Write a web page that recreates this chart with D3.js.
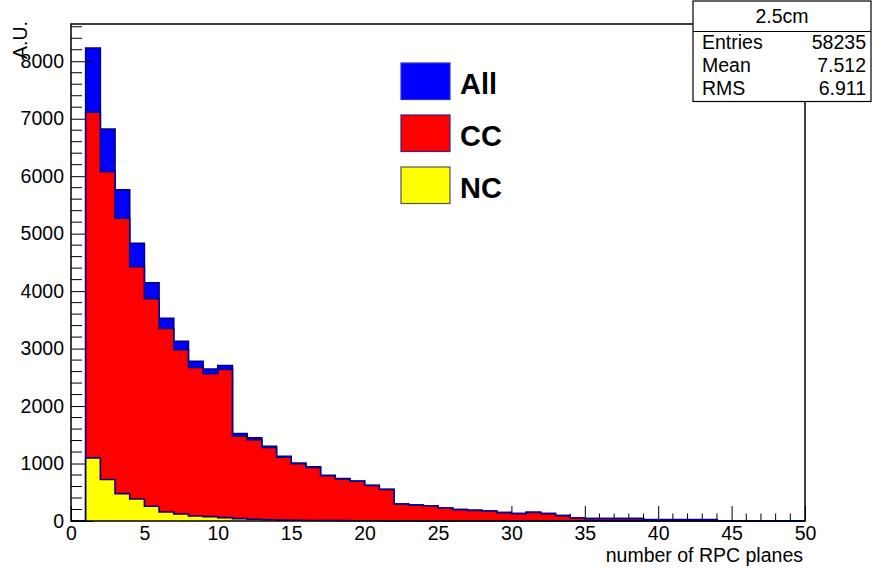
<!DOCTYPE html>
<html><head><meta charset="utf-8">
<script src="https://cdn.jsdelivr.net/npm/d3@7"></script>
<style>body{margin:0;background:#fff;} svg{display:block;font-family:"Liberation Sans",Arial,sans-serif;}</style>
</head><body>
<svg id="c" width="872" height="569"></svg>
<script>
// Histogram bins of width 1, first bin starts at x = 1
const firstBin = 1;
const allValues = [8230, 6819, 5761, 4833, 4146, 3526, 3125, 2777, 2643, 2707,
  1523, 1446, 1301, 1127, 1010, 941, 796, 739, 697, 622, 552, 296,
  279, 261, 226, 199, 186, 174, 146, 129, 151, 129, 94, 52, 42, 42, 42, 42,
  24, 24, 24, 24, 24];
const ccValues = [7115, 6080, 5268, 4425, 3868, 3352, 2979, 2672, 2561, 2638,
  1480, 1415, 1278, 1110, 997, 930, 788, 732, 692, 618, 549, 294,
  277, 260, 225, 198, 185, 173, 145, 128, 150, 128, 93, 51, 41, 41, 41, 41,
  23, 23, 23, 23, 23];
const ncValues = [1098, 721, 477, 383, 256, 157, 122, 87, 77, 59,
  42, 30, 22, 16, 12, 10, 8, 6, 5, 4, 3, 2,
  2, 1, 1, 1, 1, 1, 1, 0, 0, 0, 0, 0, 0, 0, 0, 0,
  0, 0, 0, 0, 0];
const seriesNames = ["All", "CC", "NC"];
const seriesColors = ["#0000ff", "#ff0000", "#ffff00"];
const yTicks = [0, 1000, 2000, 3000, 4000, 5000, 6000, 7000, 8000];
const xTicks = [0, 5, 10, 15, 20, 25, 30, 35, 40, 45, 50];
const statsTitle = "2.5cm";
const statsRows = [["Entries", "58235"], ["Mean", "7.512"], ["RMS", "6.911"]];
const xTitle = "number of RPC planes";
const yTitle = "A.U.";

const svg = d3.select("#c");
const L = 71, R = 805, T = 24, B = 521;
const FS = 19.5;
const x = d3.scaleLinear().domain([0, 50]).range([L, R]);
const y = d3.scaleLinear().domain([0, 8648]).range([B, T]);
const outline = "#00008f";

function histPath(vals) {
  const pts = [[0, 0]];
  for (let b = 0; b < 50; b++) {
    const i = b - firstBin;
    const v = (i >= 0 && i < vals.length) ? vals[i] : 0;
    pts.push([b, v], [b + 1, v]);
  }
  pts.push([50, 0]);
  return d3.line().x(d => x(d[0])).y(d => y(d[1]))(pts);
}

function drawHist(vals, color) {
  svg.append("path").attr("d", histPath(vals) + "Z")
    .attr("fill", color).attr("stroke", "none");
  svg.append("path").attr("d", histPath(vals))
    .attr("fill", "none").attr("stroke", outline).attr("stroke-width", 1.6);
}

drawHist(allValues, seriesColors[0]);

// axes (ticks inward)
const yMinor = d3.range(0, 8648, 200).filter(v => v % 1000 !== 0);
svg.append("g").selectAll("line").data(yMinor).join("line")
  .attr("x1", L).attr("x2", L + 11).attr("y1", d => y(d)).attr("y2", d => y(d))
  .attr("stroke", "#000").attr("stroke-width", 1);
const xMinor = d3.range(0, 51, 1).filter(v => v % 5 !== 0);
svg.append("g").selectAll("line").data(xMinor).join("line")
  .attr("x1", d => x(d)).attr("x2", d => x(d)).attr("y1", B).attr("y2", B - 7.5)
  .attr("stroke", "#000").attr("stroke-width", 1);

const yAxis = svg.append("g").attr("transform", `translate(${L},0)`)
  .call(d3.axisLeft(y).tickValues(yTicks).tickSize(-22).tickPadding(7).tickFormat(d3.format("d")));
yAxis.select(".domain").remove();
yAxis.selectAll("text").attr("font-size", FS).attr("font-family", "Liberation Sans, Arial, sans-serif").attr("fill", "#000");
const xAxis = svg.append("g").attr("transform", `translate(0,${B})`)
  .call(d3.axisBottom(x).tickValues(xTicks).tickSize(-15).tickPadding(5).tickFormat(d3.format("d")));
xAxis.select(".domain").remove();
xAxis.selectAll("text").attr("font-size", FS).attr("font-family", "Liberation Sans, Arial, sans-serif").attr("fill", "#000");

drawHist(ccValues, seriesColors[1]);
drawHist(ncValues, seriesColors[2]);

// frame
svg.append("rect").attr("x", L).attr("y", T).attr("width", R - L).attr("height", B - T)
  .attr("fill", "none").attr("stroke", "#000").attr("stroke-width", 1.5);

// axis titles
svg.append("text").attr("x", R - 2).attr("y", 562).attr("text-anchor", "end")
  .attr("font-size", FS).text(xTitle);
svg.append("text").attr("transform", `translate(27,${T - 3}) rotate(-90)`)
  .attr("text-anchor", "end").attr("font-size", FS).text(yTitle);

// legend
const legY = [63, 115, 167];
const legBorder = ["#3030d0", "#40207a", "#555"];
seriesNames.forEach((n, i) => {
  svg.append("rect").attr("x", 401).attr("y", legY[i]).attr("width", 49).attr("height", 36.5)
    .attr("fill", seriesColors[i]).attr("stroke", legBorder[i]).attr("stroke-width", 1.2);
  svg.append("text").attr("x", 460).attr("y", legY[i] + 31).attr("font-size", 29)
    .attr("font-weight", "bold").text(n);
});

// stats box
const sx = 693, sw = 178, st = 1;
svg.append("rect").attr("x", sx).attr("y", st).attr("width", sw).attr("height", 100.5)
  .attr("fill", "#fff").attr("stroke", "#000").attr("stroke-width", 1.2);
svg.append("line").attr("x1", sx).attr("x2", sx + sw).attr("y1", 31.5).attr("y2", 31.5)
  .attr("stroke", "#000").attr("stroke-width", 1.2);
svg.append("text").attr("x", sx + sw / 2).attr("y", 23).attr("text-anchor", "middle")
  .attr("font-size", FS).text(statsTitle);
statsRows.forEach((r, i) => {
  const by = 48.5 + i * 23.3;
  svg.append("text").attr("x", 702).attr("y", by).attr("font-size", FS).text(r[0]);
  svg.append("text").attr("x", 866).attr("y", by).attr("text-anchor", "end").attr("font-size", FS).text(r[1]);
});
</script>
</body></html>
